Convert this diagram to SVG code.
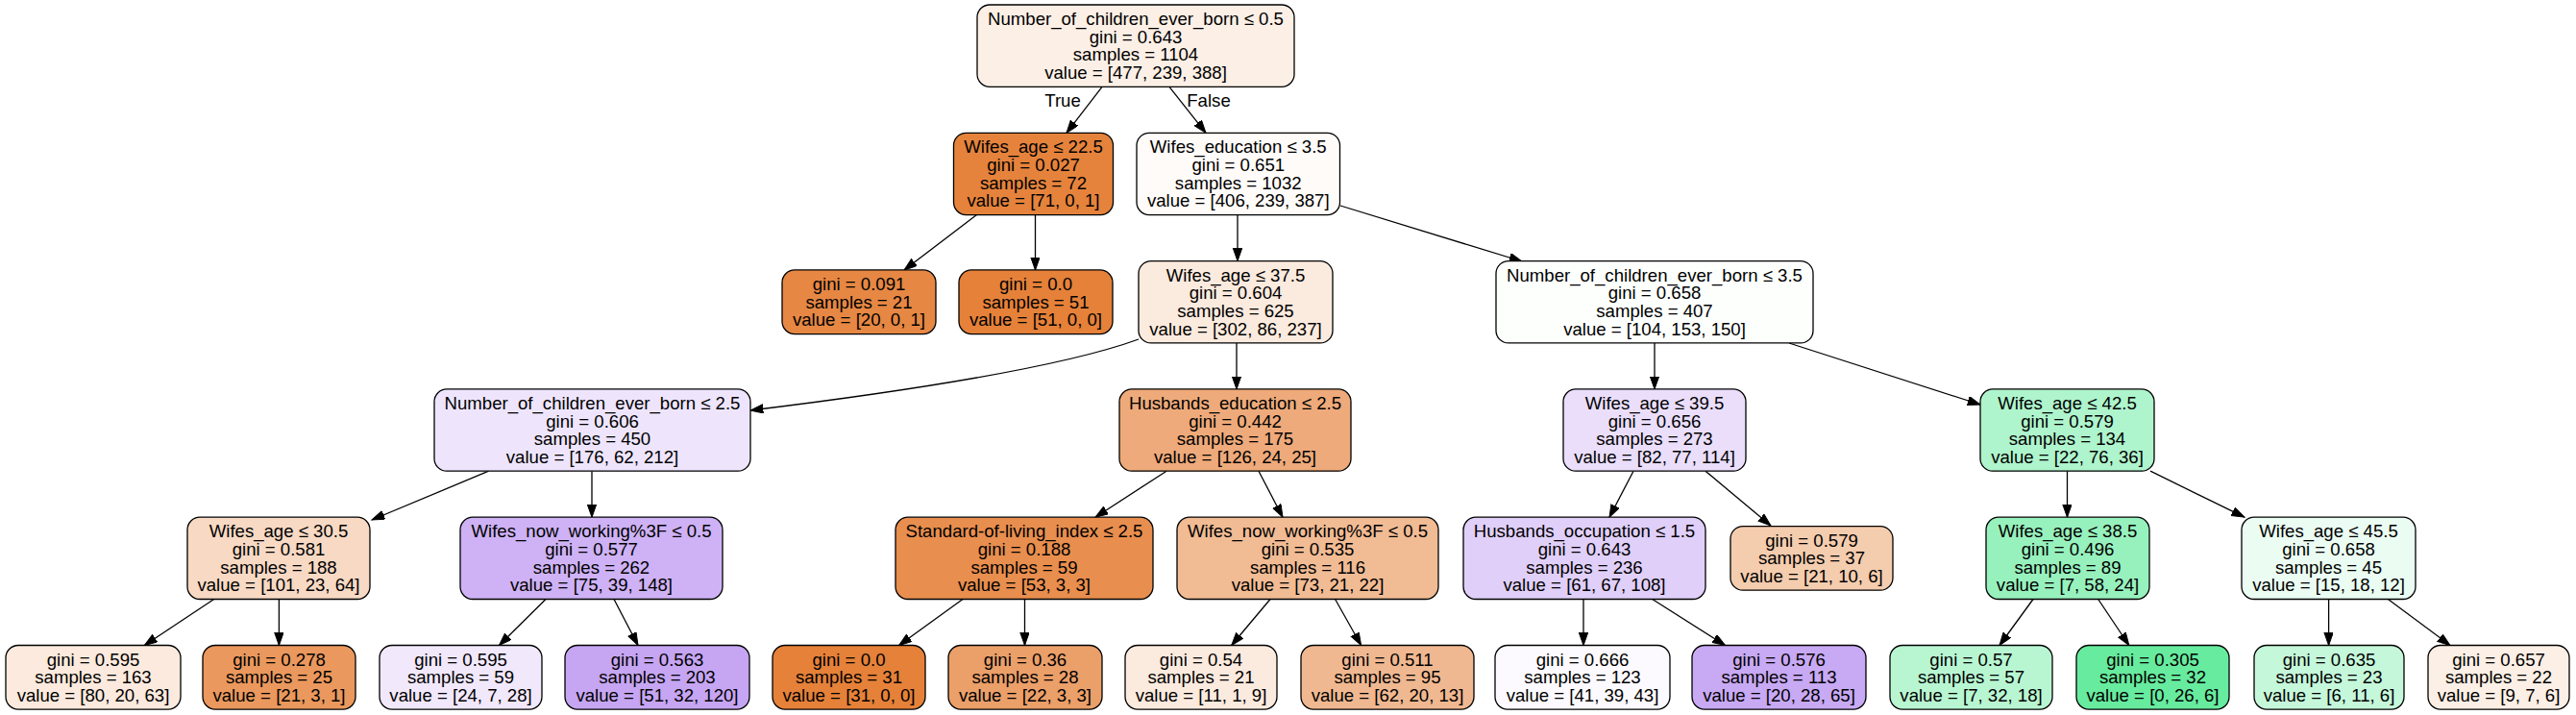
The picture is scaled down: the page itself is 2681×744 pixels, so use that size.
<svg xmlns="http://www.w3.org/2000/svg" width="2681" height="744" viewBox="0 0 2681 744">
<style>
.n rect{stroke:#000;stroke-width:1.3}
text{font-family:"Liberation Sans",Helvetica,Arial,sans-serif;font-size:18.6px;fill:#000;text-anchor:middle}
.e path{fill:none;stroke:#000;stroke-width:1.3;marker-end:url(#ah)}
</style>
<defs>
<marker id="ah" markerUnits="userSpaceOnUse" markerWidth="15" markerHeight="11" refX="13.3" refY="4.7" orient="auto"><path d="M0,0 L13.3,4.7 L0,9.4 z" fill="#000" stroke="#000" stroke-width="1"/></marker>
</defs>
<rect width="2681" height="744" fill="#fff"/>
<g class="e">
<path d="M1147,90.3 L1110,138.3"/>
<path d="M1217,90.3 L1255,138.3"/>
<path d="M1016.5,223.6 L941,281"/>
<path d="M1077.5,223.6 L1077.5,281"/>
<path d="M1288,223.6 L1288,271.6"/>
<path d="M1395,214 L1584,272"/>
<path d="M1185,353 C1100,384 920,410 781,427"/>
<path d="M1287,356.9 L1287,404.9"/>
<path d="M1722,356.9 L1722,404.9"/>
<path d="M1862,357 L2061,421"/>
<path d="M508.6,490.2 L387,541"/>
<path d="M616,490.2 L616,538.2"/>
<path d="M1214,490.2 L1140,538.2"/>
<path d="M1310,490.2 L1335,538.2"/>
<path d="M1700,490.2 L1675,538.2"/>
<path d="M1775,490.2 L1843,547"/>
<path d="M2151.5,490.2 L2151.5,538.2"/>
<path d="M2238,490.2 L2336,538.2"/>
<path d="M222.7,623.5 L150.4,671.5"/>
<path d="M290.4,623.5 L290.4,671.5"/>
<path d="M568,623.5 L519.5,671.5"/>
<path d="M639,623.5 L664,671.5"/>
<path d="M1002,623.5 L935.6,671.5"/>
<path d="M1066.5,623.5 L1066.5,671.5"/>
<path d="M1322,623.5 L1281.7,671.5"/>
<path d="M1389.6,623.5 L1416.6,671.5"/>
<path d="M1648,623.5 L1648,671.5"/>
<path d="M1719.7,623.5 L1795.5,671.5"/>
<path d="M2116,623.5 L2081,671.5"/>
<path d="M2183.7,623.5 L2215.8,671.5"/>
<path d="M2423.6,623.5 L2423.6,671.5"/>
<path d="M2485.4,623.5 L2550,671.5"/>
<text x="1106" y="111">True</text>
<text x="1258" y="111">False</text>
</g>
<g id="root" class="n"><rect x="1017" y="5" width="330" height="85.3" rx="13" fill="#fcefe6"/><text x="1182" y="26">Number_of_children_ever_born ≤ 0.5</text><text x="1182" y="44.7">gini = 0.643</text><text x="1182" y="63.4">samples = 1104</text><text x="1182" y="82.1">value = [477, 239, 388]</text></g>
<g id="nA" class="n"><rect x="992.5" y="138.3" width="166" height="85.3" rx="13" fill="#e5833c"/><text x="1075.5" y="159.3">Wifes_age ≤ 22.5</text><text x="1075.5" y="178">gini = 0.027</text><text x="1075.5" y="196.7">samples = 72</text><text x="1075.5" y="215.4">value = [71, 0, 1]</text></g>
<g id="nB" class="n"><rect x="1183" y="138.3" width="211.5" height="85.3" rx="13" fill="#fefbf9"/><text x="1288.75" y="159.3">Wifes_education ≤ 3.5</text><text x="1288.75" y="178">gini = 0.651</text><text x="1288.75" y="196.7">samples = 1032</text><text x="1288.75" y="215.4">value = [406, 239, 387]</text></g>
<g id="nA1" class="n"><rect x="814" y="280.95" width="160" height="66.6" rx="13" fill="#e68743"/><text x="894" y="301.95">gini = 0.091</text><text x="894" y="320.65">samples = 21</text><text x="894" y="339.35">value = [20, 0, 1]</text></g>
<g id="nA2" class="n"><rect x="998" y="280.95" width="160" height="66.6" rx="13" fill="#e58139"/><text x="1078" y="301.95">gini = 0.0</text><text x="1078" y="320.65">samples = 51</text><text x="1078" y="339.35">value = [51, 0, 0]</text></g>
<g id="nC" class="n"><rect x="1185" y="271.6" width="202" height="85.3" rx="13" fill="#fbeade"/><text x="1286" y="292.6">Wifes_age ≤ 37.5</text><text x="1286" y="311.3">gini = 0.604</text><text x="1286" y="330">samples = 625</text><text x="1286" y="348.7">value = [302, 86, 237]</text></g>
<g id="nQ" class="n"><rect x="1557" y="271.6" width="330" height="85.3" rx="13" fill="#fdfffd"/><text x="1722" y="292.6">Number_of_children_ever_born ≤ 3.5</text><text x="1722" y="311.3">gini = 0.658</text><text x="1722" y="330">samples = 407</text><text x="1722" y="348.7">value = [104, 153, 150]</text></g>
<g id="nD" class="n"><rect x="452" y="404.9" width="329" height="85.3" rx="13" fill="#eee5fc"/><text x="616.5" y="425.9">Number_of_children_ever_born ≤ 2.5</text><text x="616.5" y="444.6">gini = 0.606</text><text x="616.5" y="463.3">samples = 450</text><text x="616.5" y="482">value = [176, 62, 212]</text></g>
<g id="nE" class="n"><rect x="1165" y="404.9" width="241" height="85.3" rx="13" fill="#eeaa7a"/><text x="1285.5" y="425.9">Husbands_education ≤ 2.5</text><text x="1285.5" y="444.6">gini = 0.442</text><text x="1285.5" y="463.3">samples = 175</text><text x="1285.5" y="482">value = [126, 24, 25]</text></g>
<g id="nO" class="n"><rect x="1627" y="404.9" width="190" height="85.3" rx="13" fill="#eadefb"/><text x="1722" y="425.9">Wifes_age ≤ 39.5</text><text x="1722" y="444.6">gini = 0.656</text><text x="1722" y="463.3">samples = 273</text><text x="1722" y="482">value = [82, 77, 114]</text></g>
<g id="nP" class="n"><rect x="2061" y="404.9" width="181" height="85.3" rx="13" fill="#aef4cc"/><text x="2151.5" y="425.9">Wifes_age ≤ 42.5</text><text x="2151.5" y="444.6">gini = 0.579</text><text x="2151.5" y="463.3">samples = 134</text><text x="2151.5" y="482">value = [22, 76, 36]</text></g>
<g id="nI" class="n"><rect x="195" y="538.2" width="190" height="85.3" rx="13" fill="#f7d9c4"/><text x="290" y="559.2">Wifes_age ≤ 30.5</text><text x="290" y="577.9">gini = 0.581</text><text x="290" y="596.6">samples = 188</text><text x="290" y="615.3">value = [101, 23, 64]</text></g>
<g id="nF" class="n"><rect x="479" y="538.2" width="273" height="85.3" rx="13" fill="#ceb2f5"/><text x="615.5" y="559.2">Wifes_now_working%3F ≤ 0.5</text><text x="615.5" y="577.9">gini = 0.577</text><text x="615.5" y="596.6">samples = 262</text><text x="615.5" y="615.3">value = [75, 39, 148]</text></g>
<g id="nG" class="n"><rect x="932" y="538.2" width="268" height="85.3" rx="13" fill="#e88e4e"/><text x="1066" y="559.2">Standard-of-living_index ≤ 2.5</text><text x="1066" y="577.9">gini = 0.188</text><text x="1066" y="596.6">samples = 59</text><text x="1066" y="615.3">value = [53, 3, 3]</text></g>
<g id="nH" class="n"><rect x="1225" y="538.2" width="272" height="85.3" rx="13" fill="#f1bb94"/><text x="1361" y="559.2">Wifes_now_working%3F ≤ 0.5</text><text x="1361" y="577.9">gini = 0.535</text><text x="1361" y="596.6">samples = 116</text><text x="1361" y="615.3">value = [73, 21, 22]</text></g>
<g id="nJ" class="n"><rect x="1523" y="538.2" width="252" height="85.3" rx="13" fill="#e0cff9"/><text x="1649" y="559.2">Husbands_occupation ≤ 1.5</text><text x="1649" y="577.9">gini = 0.643</text><text x="1649" y="596.6">samples = 236</text><text x="1649" y="615.3">value = [61, 67, 108]</text></g>
<g id="nK" class="n"><rect x="1801" y="547.55" width="169" height="66.6" rx="13" fill="#f4ccae"/><text x="1885.5" y="568.55">gini = 0.579</text><text x="1885.5" y="587.25">samples = 37</text><text x="1885.5" y="605.95">value = [21, 10, 6]</text></g>
<g id="nM" class="n"><rect x="2067" y="538.2" width="170" height="85.3" rx="13" fill="#97f1bd"/><text x="2152" y="559.2">Wifes_age ≤ 38.5</text><text x="2152" y="577.9">gini = 0.496</text><text x="2152" y="596.6">samples = 89</text><text x="2152" y="615.3">value = [7, 58, 24]</text></g>
<g id="nN" class="n"><rect x="2333" y="538.2" width="181" height="85.3" rx="13" fill="#ebfcf2"/><text x="2423.5" y="559.2">Wifes_age ≤ 45.5</text><text x="2423.5" y="577.9">gini = 0.658</text><text x="2423.5" y="596.6">samples = 45</text><text x="2423.5" y="615.3">value = [15, 18, 12]</text></g>
<g id="L1" class="n"><rect x="6" y="671.5" width="182" height="66.6" rx="13" fill="#fbeadd"/><text x="97" y="692.5">gini = 0.595</text><text x="97" y="711.2">samples = 163</text><text x="97" y="729.9">value = [80, 20, 63]</text></g>
<g id="L2" class="n"><rect x="211" y="671.5" width="159" height="66.6" rx="13" fill="#ea985d"/><text x="290.5" y="692.5">gini = 0.278</text><text x="290.5" y="711.2">samples = 25</text><text x="290.5" y="729.9">value = [21, 3, 1]</text></g>
<g id="L3" class="n"><rect x="395" y="671.5" width="169" height="66.6" rx="13" fill="#f1e8fc"/><text x="479.5" y="692.5">gini = 0.595</text><text x="479.5" y="711.2">samples = 59</text><text x="479.5" y="729.9">value = [24, 7, 28]</text></g>
<g id="L4" class="n"><rect x="588" y="671.5" width="192" height="66.6" rx="13" fill="#c6a5f3"/><text x="684" y="692.5">gini = 0.563</text><text x="684" y="711.2">samples = 203</text><text x="684" y="729.9">value = [51, 32, 120]</text></g>
<g id="L5" class="n"><rect x="804" y="671.5" width="159" height="66.6" rx="13" fill="#e58139"/><text x="883.5" y="692.5">gini = 0.0</text><text x="883.5" y="711.2">samples = 31</text><text x="883.5" y="729.9">value = [31, 0, 0]</text></g>
<g id="L6" class="n"><rect x="987" y="671.5" width="160" height="66.6" rx="13" fill="#eb9f69"/><text x="1067" y="692.5">gini = 0.36</text><text x="1067" y="711.2">samples = 28</text><text x="1067" y="729.9">value = [22, 3, 3]</text></g>
<g id="L7" class="n"><rect x="1171" y="671.5" width="158" height="66.6" rx="13" fill="#fbeade"/><text x="1250" y="692.5">gini = 0.54</text><text x="1250" y="711.2">samples = 21</text><text x="1250" y="729.9">value = [11, 1, 9]</text></g>
<g id="L8" class="n"><rect x="1354" y="671.5" width="180" height="66.6" rx="13" fill="#f0b890"/><text x="1444" y="692.5">gini = 0.511</text><text x="1444" y="711.2">samples = 95</text><text x="1444" y="729.9">value = [62, 20, 13]</text></g>
<g id="L9" class="n"><rect x="1556" y="671.5" width="182" height="66.6" rx="13" fill="#fcfafe"/><text x="1647" y="692.5">gini = 0.666</text><text x="1647" y="711.2">samples = 123</text><text x="1647" y="729.9">value = [41, 39, 43]</text></g>
<g id="L10" class="n"><rect x="1761" y="671.5" width="181" height="66.6" rx="13" fill="#c8a9f4"/><text x="1851.5" y="692.5">gini = 0.576</text><text x="1851.5" y="711.2">samples = 113</text><text x="1851.5" y="729.9">value = [20, 28, 65]</text></g>
<g id="L11" class="n"><rect x="1967" y="671.5" width="169" height="66.6" rx="13" fill="#b8f6d2"/><text x="2051.5" y="692.5">gini = 0.57</text><text x="2051.5" y="711.2">samples = 57</text><text x="2051.5" y="729.9">value = [7, 32, 18]</text></g>
<g id="L12" class="n"><rect x="2161" y="671.5" width="159" height="66.6" rx="13" fill="#67eb9e"/><text x="2240.5" y="692.5">gini = 0.305</text><text x="2240.5" y="711.2">samples = 32</text><text x="2240.5" y="729.9">value = [0, 26, 6]</text></g>
<g id="L13" class="n"><rect x="2346" y="671.5" width="156" height="66.6" rx="13" fill="#c5f7da"/><text x="2424" y="692.5">gini = 0.635</text><text x="2424" y="711.2">samples = 23</text><text x="2424" y="729.9">value = [6, 11, 6]</text></g>
<g id="L14" class="n"><rect x="2527" y="671.5" width="147" height="66.6" rx="13" fill="#fcefe5"/><text x="2600.5" y="692.5">gini = 0.657</text><text x="2600.5" y="711.2">samples = 22</text><text x="2600.5" y="729.9">value = [9, 7, 6]</text></g>
</svg>
